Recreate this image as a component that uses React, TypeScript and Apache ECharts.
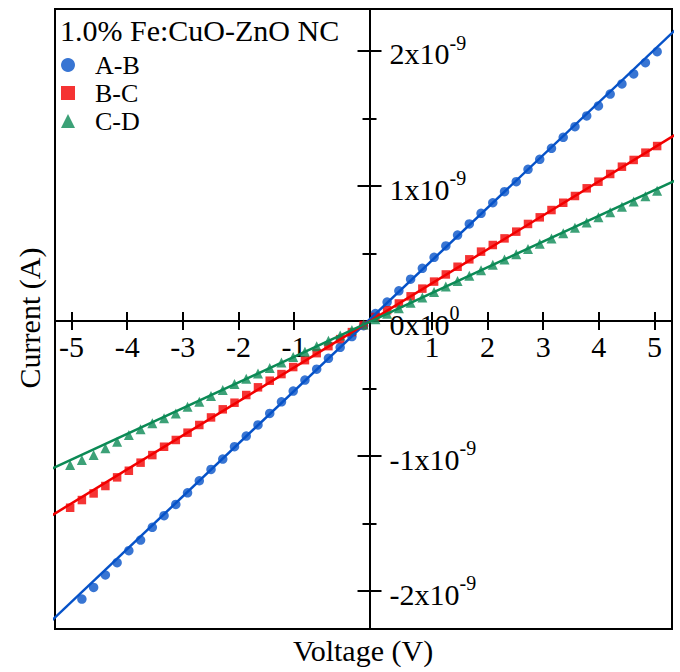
import React, { useEffect, useRef } from "react";
import * as echarts from "echarts";

// ---- data (current in units of 1e-9 A) ----
const voltageAB = [
  -4.9, -4.7, -4.5, -4.3, -4.1, -3.9, -3.7, -3.5, -3.3, -3.1, -2.9, -2.7, -2.5,
  -2.3, -2.1, -1.9, -1.7, -1.5, -1.3, -1.1, -0.9, -0.7, -0.5, -0.3, -0.1, 0.1,
  0.3, 0.5, 0.7, 0.9, 1.1, 1.3, 1.5, 1.7, 1.9, 2.1, 2.3, 2.5, 2.7, 2.9, 3.1, 3.3,
  3.5, 3.7, 3.9, 4.1, 4.3, 4.5, 4.7, 4.9,
];
const currentAB = [
  -2.059, -1.973, -1.881, -1.79, -1.701, -1.622, -1.528, -1.442, -1.358, -1.272,
  -1.183, -1.099, -1.022, -0.931, -0.852, -0.77, -0.684, -0.598, -0.519, -0.437,
  -0.357, -0.276, -0.195, -0.115, -0.035, 0.055, 0.14, 0.224, 0.31, 0.39, 0.472,
  0.556, 0.637, 0.719, 0.798, 0.876, 0.958, 1.032, 1.124, 1.198, 1.279, 1.361,
  1.439, 1.519, 1.593, 1.681, 1.756, 1.83, 1.913, 1.995,
];
const voltageBCD = [
  -5.1, -4.9, -4.7, -4.5, -4.3, -4.1, -3.9, -3.7, -3.5, -3.3, -3.1, -2.9, -2.7,
  -2.5, -2.3, -2.1, -1.9, -1.7, -1.5, -1.3, -1.1, -0.9, -0.7, -0.5, -0.3, -0.1,
  0.1, 0.3, 0.5, 0.7, 0.9, 1.1, 1.3, 1.5, 1.7, 1.9, 2.1, 2.3, 2.5, 2.7, 2.9, 3.1,
  3.3, 3.5, 3.7, 3.9, 4.1, 4.3, 4.5, 4.7, 4.9,
];
const currentBC = [
  -1.383, -1.326, -1.277, -1.222, -1.158, -1.109, -1.049, -0.993, -0.931, -0.881,
  -0.827, -0.77, -0.714, -0.654, -0.605, -0.548, -0.491, -0.442, -0.393, -0.341,
  -0.29, -0.238, -0.186, -0.134, -0.082, -0.03, 0.03, 0.08, 0.13, 0.183, 0.24,
  0.292, 0.345, 0.402, 0.457, 0.514, 0.563, 0.612, 0.662, 0.719, 0.768, 0.822,
  0.876, 0.926, 0.983, 1.032, 1.089, 1.143, 1.193, 1.247, 1.296,
];
const currentCD = [
  -1.067, -1.03, -0.993, -0.943, -0.894, -0.844, -0.802, -0.758, -0.721, -0.684,
  -0.635, -0.598, -0.556, -0.511, -0.467, -0.428, -0.388, -0.348, -0.308, -0.267,
  -0.227, -0.187, -0.147, -0.107, -0.066, -0.026, 0.014, 0.054, 0.095, 0.135,
  0.175, 0.215, 0.255, 0.296, 0.336, 0.376, 0.416, 0.455, 0.494, 0.533, 0.573,
  0.612, 0.651, 0.69, 0.729, 0.768, 0.806, 0.846, 0.886, 0.924, 0.965,
];
// linear fits (end points)
const fitVoltage = [-5.5, 5.5];
const fitAB = [-2.254, 2.276];
const fitBC = [-1.463, 1.457];
const fitCD = [-1.112, 1.1];

const seriesNames = ["A-B", "B-C", "C-D"];
const legendTitle = "1.0% Fe:CuO-ZnO NC";
const xTitle = "Voltage (V)";
const yTitle = "Current (A)";
const xTicksNeg = [-5, -4, -3, -2, -1];
const xTicksPos = [1, 2, 3, 4, 5];
const yTicksMajor = [-2, -1, 0, 1, 2];
const yTicksMinor = [-1.5, -0.5, 0.5, 1.5];
const yExponent = "-9";

const COLORS = ["#0652c8", "#f20000", "#0b8a55"];
const FONT = '"Liberation Serif", "Times New Roman", serif';

const GRID = { left: 55, right: 8, top: 9, bottom: 43 };
const W = 680;
const H = 672;
const X_MIN = -5.358;
const X_MAX = 5.153;
const Y_MIN = -2.281;
const Y_MAX = 2.311;

// pixel position of the zero lines (axes cross at the data origin)
const plotW = W - GRID.left - GRID.right;
const plotH = H - GRID.top - GRID.bottom;
const zeroX = GRID.left + ((0 - X_MIN) / (X_MAX - X_MIN)) * plotW;
const zeroY = GRID.top + ((Y_MAX - 0) / (Y_MAX - Y_MIN)) * plotH;
const yAxisOffset = -(zeroX - GRID.left);
const xAxisOffset = -(H - GRID.bottom - zeroY);

const lineStyle = { color: "#000", width: 2 };

function xAxisDef(min: number, max: number, ticks: number[], inside: boolean, labels: boolean) {
  return {
    type: "value",
    position: "bottom",
    offset: xAxisOffset,
    min,
    max,
    splitLine: { show: false },
    axisLine: { show: true, onZero: false, lineStyle },
    axisTick: { show: ticks.length > 0, inside, length: 9, customValues: ticks, lineStyle },
    axisLabel: labels
      ? {
          show: true,
          customValues: ticks,
          margin: 10,
          color: "#000",
          fontFamily: FONT,
          fontSize: 30,
        }
      : { show: false },
  };
}

function yAxisDef(ticks: number[], len: number, inside: boolean, labels: boolean) {
  return {
    type: "value",
    position: "left",
    offset: yAxisOffset,
    min: Y_MIN,
    max: Y_MAX,
    splitLine: { show: false },
    axisLine: { show: true, onZero: false, lineStyle },
    axisTick: { show: true, inside, length: len, customValues: ticks, lineStyle },
    axisLabel: labels
      ? {
          show: true,
          inside: true,
          margin: 20,
          customValues: ticks,
          formatter: (v: number) =>
            v === 0 ? "{a|0x10}{s|0}" : `{a|${v}x10}{s|${yExponent}}`,
          rich: {
            a: { fontFamily: FONT, fontSize: 30, color: "#000", lineHeight: 36, verticalAlign: "bottom" },
            s: { fontFamily: FONT, fontSize: 20, color: "#000", verticalAlign: "top", lineHeight: 20 },
          },
        }
      : { show: false },
  };
}

export default function App() {
  const ref = useRef<HTMLDivElement>(null);
  useEffect(() => {
    if (!ref.current) return;
    const chart = echarts.init(ref.current, undefined, { renderer: "svg" });
    const scatterData = [
      voltageAB.map((v, i) => [v, currentAB[i]]),
      voltageBCD.map((v, i) => [v, currentBC[i]]),
      voltageBCD.map((v, i) => [v, currentCD[i]]),
    ];
    const fits = [fitAB, fitBC, fitCD];
    const symbols = ["circle", "rect", "triangle"];
    const sizes = [9.5, 8.5, 10];
    const option: any = {
      animation: false,
      backgroundColor: "#fff",
      grid: {
        ...GRID,
        show: true,
        borderColor: "#000",
        borderWidth: 2,
        backgroundColor: "transparent",
      },
      title: {
        text: legendTitle,
        left: 60,
        top: 15,
        padding: 0,
        textStyle: { fontFamily: FONT, fontSize: 30, fontWeight: "normal", color: "#000" },
      },
      legend: {
        data: seriesNames.map((n, i) => ({ name: n, icon: symbols[i] })),
        orient: "vertical",
        left: 61,
        top: 52,
        padding: 0,
        itemWidth: 14,
        itemHeight: 14,
        itemGap: 2,
        selectedMode: false,
        textStyle: { fontFamily: FONT, fontSize: 26, color: "#000", padding: [0, 0, 0, 15] },
      },
      xAxis: [
        xAxisDef(X_MIN, X_MAX, [], false, false),
        xAxisDef(-5.299, 5.799, xTicksNeg, false, true),
        xAxisDef(-5.299, 5.799, xTicksNeg, true, false),
        xAxisDef(-5.781, 5.317, xTicksPos, false, true),
        xAxisDef(-5.781, 5.317, xTicksPos, true, false),
      ],
      yAxis: [
        yAxisDef(yTicksMajor, 12, true, true),
        yAxisDef(yTicksMajor, 12, false, false),
        yAxisDef(yTicksMinor, 7, true, false),
        yAxisDef(yTicksMinor, 7, false, false),
      ],
      graphic: [
        {
          type: "text",
          x: 363,
          y: 650,
          style: {
            text: xTitle,
            fontFamily: FONT,
            fontSize: 30,
            fill: "#000",
            align: "center",
            verticalAlign: "middle",
          },
        },
        {
          type: "text",
          x: 29,
          y: 318,
          rotation: Math.PI / 2,
          style: {
            text: yTitle,
            fontFamily: FONT,
            fontSize: 30,
            fill: "#000",
            align: "center",
            verticalAlign: "middle",
          },
        },
      ],
      series: [
        ...seriesNames.map((n, i) => ({
          name: n,
          type: "scatter",
          xAxisIndex: 0,
          yAxisIndex: 0,
          symbol: symbols[i],
          symbolSize: sizes[i],
          itemStyle: { color: COLORS[i] },
          data: scatterData[i],
          z: 2,
        })),
        ...fits.map((f, i) => ({
          name: "fit " + seriesNames[i],
          type: "line",
          xAxisIndex: 0,
          yAxisIndex: 0,
          showSymbol: false,
          symbol: "none",
          clip: true,
          lineStyle: { color: COLORS[i], width: 2.5 },
          data: fitVoltage.map((v, j) => [v, f[j]]),
          z: 3,
        })),
      ],
    };
    chart.setOption(option);
    return () => chart.dispose();
  }, []);
  return (
    <div
      ref={ref}
      style={{ position: "fixed", left: 0, top: 0, width: W, height: H, background: "#fff" }}
    />
  );
}
